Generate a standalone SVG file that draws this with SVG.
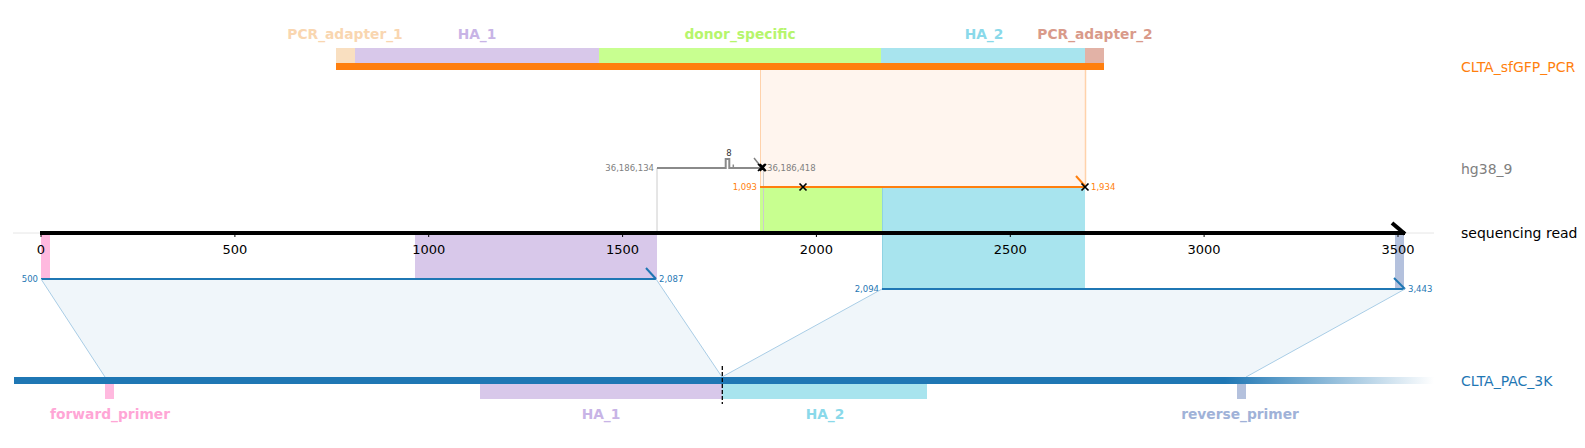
<svg xmlns="http://www.w3.org/2000/svg" width="1585" height="448" viewBox="0 0 1585 448">
<style>
text{font-family:"DejaVu Sans","Liberation Sans",sans-serif}
.lab{font-size:13.8px;font-weight:bold;text-anchor:middle}
.trk{font-size:14px}
.tick{font-size:13px;text-anchor:middle;fill:#000}
.sm{font-size:8.5px}
.aln{stroke:#1f77b4;stroke-width:2;fill:none}
.cx{stroke:#000;stroke-width:1.7}
.conn{stroke:#a9cde6;stroke-width:1;fill:none}
</style>
<defs>
<linearGradient id="fade" gradientUnits="userSpaceOnUse" x1="1225" y1="0" x2="1434" y2="0">
<stop offset="0" stop-color="#1f77b4"/>
<stop offset="1" stop-color="#1f77b4" stop-opacity="0"/>
</linearGradient>
</defs>
<rect width="1585" height="448" fill="#fff"/>

<!-- alignment fills -->
<g id="alignment-fills">
<polygon points="41,279 656,279 722,377 105,377" fill="#f0f6fa"/>
<polygon points="882,289 1405,289 1246,377 722,377" fill="#f0f6fa"/>
</g>

<!-- PCR product track -->
<g id="CLTA_sfGFP_PCR">
<rect x="760" y="70" width="325" height="117" fill="#fff5ee"/>
<line x1="760.5" y1="63" x2="760.5" y2="233" stroke="#ffd2ab" stroke-width="1"/>
<line x1="1085.5" y1="63" x2="1085.5" y2="187" stroke="#ffd2ab" stroke-width="1.5"/>
<rect x="336" y="48" width="19" height="15" fill="#f9dfc0"/>
<rect x="355" y="48" width="244" height="15" fill="#d8c8ea"/>
<rect x="599" y="48" width="282" height="15" fill="#c8ff90"/>
<rect x="881" y="48" width="204" height="15" fill="#a8e4ee"/>
<rect x="1085" y="48" width="19" height="15" fill="#e2b2a6"/>
<rect x="336" y="63" width="768" height="7" fill="#ff7f0e"/>
<text class="lab" x="345" y="39" fill="#f9d6b0">PCR_adapter_1</text>
<text class="lab" x="477" y="39" fill="#c8b4e6">HA_1</text>
<text class="lab" x="740" y="39" fill="#b6f56c">donor_specific</text>
<text class="lab" x="984" y="39" fill="#8ad9ea">HA_2</text>
<text class="lab" x="1095" y="39" fill="#d99a8a">PCR_adapter_2</text>
<text class="trk" x="1461" y="72" fill="#ff7f0e">CLTA_sfGFP_PCR</text>
</g>

<!-- read features -->
<g id="read-features">
<rect x="41" y="233" width="9" height="46" fill="#ffb9df"/>
<rect x="415" y="233" width="242" height="46" fill="#d8c8ea"/>
<rect x="760" y="187" width="122" height="46" fill="#c8ff90"/>
<rect x="882" y="187" width="203" height="102" fill="#a8e4ee"/>
<line x1="882.5" y1="187" x2="882.5" y2="289" stroke="#8fd3e3" stroke-width="1"/>
<rect x="1395" y="233" width="9" height="56" fill="#b4c1dd"/>
</g>

<!-- hg38 track -->
<g id="hg38_9">
<line x1="657" y1="168" x2="657" y2="233" stroke="#cccccc" stroke-width="1"/>
<line x1="763.5" y1="168" x2="763.5" y2="233" stroke="#cccccc" stroke-width="1"/>
<path d="M657 168 H725.7 V159 H729.3 V168 H762" stroke="#8a8a8a" stroke-width="2" fill="none"/>
<line x1="733.3" y1="168" x2="733.3" y2="164.5" stroke="#8a8a8a" stroke-width="1.5"/>
<line x1="754" y1="158" x2="762" y2="168" stroke="#808080" stroke-width="1.5"/>
<path class="cx" d="M758 164 L765 171 M758 171 L765 164 M760 164 L766 171 M760 171 L766 164"/>
<text x="729" y="156" font-size="8.5" text-anchor="middle" fill="#333">8</text>
<text class="sm" x="654" y="171" text-anchor="end" fill="#808080">36,186,134</text>
<text class="sm" x="767" y="171" fill="#808080">36,186,418</text>
<text class="trk" x="1461" y="174" fill="#808080">hg38_9</text>
</g>

<!-- PCR alignment -->
<g id="pcr-alignment">
<line x1="760" y1="187" x2="1085" y2="187" stroke="#ff7f0e" stroke-width="2"/>
<line x1="1076" y1="176" x2="1085" y2="186" stroke="#ff7f0e" stroke-width="2"/>
<path class="cx" d="M799.5 183.5 L806.5 190.5 M799.5 190.5 L806.5 183.5"/>
<path class="cx" d="M1081.5 183.5 L1088.5 190.5 M1081.5 190.5 L1088.5 183.5"/>
<text class="sm" x="757" y="190" text-anchor="end" fill="#ff7f0e">1,093</text>
<text class="sm" x="1091" y="190" fill="#ff7f0e">1,934</text>
</g>

<!-- sequencing read axis -->
<g id="sequencing-read">
<line x1="13" y1="233" x2="1434" y2="233" stroke="#e6e6e6" stroke-width="1"/>
<line x1="40" y1="233" x2="1405" y2="233" stroke="#000" stroke-width="4"/>
<line x1="1392" y1="223" x2="1405" y2="234" stroke="#000" stroke-width="4"/>
<g stroke="#000" stroke-width="1">
<line x1="41" y1="233" x2="41" y2="237"/>
<line x1="234.9" y1="233" x2="234.9" y2="237"/>
<line x1="428.7" y1="233" x2="428.7" y2="237"/>
<line x1="622.6" y1="233" x2="622.6" y2="237"/>
<line x1="816.4" y1="233" x2="816.4" y2="237"/>
<line x1="1010.3" y1="233" x2="1010.3" y2="237"/>
<line x1="1204.1" y1="233" x2="1204.1" y2="237"/>
<line x1="1398" y1="233" x2="1398" y2="237"/>
</g>
<text class="tick" x="41" y="254">0</text>
<text class="tick" x="234.9" y="254">500</text>
<text class="tick" x="428.7" y="254">1000</text>
<text class="tick" x="622.6" y="254">1500</text>
<text class="tick" x="816.4" y="254">2000</text>
<text class="tick" x="1010.3" y="254">2500</text>
<text class="tick" x="1204.1" y="254">3000</text>
<text class="tick" x="1398" y="254">3500</text>
<text class="trk" x="1461" y="238" fill="#000">sequencing read</text>
</g>

<!-- read-to-reference alignments -->
<g id="read-alignments">
<line class="aln" x1="41" y1="279" x2="656" y2="279"/>
<line class="aln" x1="646" y1="268" x2="656" y2="279"/>
<text class="sm" x="38" y="282" text-anchor="end" fill="#1f77b4">500</text>
<text class="sm" x="659" y="282" fill="#1f77b4">2,087</text>
<line class="aln" x1="882" y1="289" x2="1405" y2="289"/>
<line class="aln" x1="1394" y1="278" x2="1405" y2="289"/>
<text class="sm" x="879" y="292" text-anchor="end" fill="#1f77b4">2,094</text>
<text class="sm" x="1408" y="292" fill="#1f77b4">3,443</text>
</g>

<!-- connectors -->
<g id="connectors">
<line class="conn" x1="41" y1="279" x2="105" y2="377"/>
<line class="conn" x1="656" y1="279" x2="722" y2="377"/>
<line class="conn" x1="882" y1="289" x2="722" y2="377"/>
<line class="conn" x1="1405" y1="289" x2="1246" y2="377"/>
</g>

<!-- reference track -->
<g id="CLTA_PAC_3K">
<rect x="14" y="377" width="1211" height="7" fill="#1f77b4"/>
<rect x="1225" y="377" width="209" height="7" fill="url(#fade)"/>
<rect x="105" y="384" width="9" height="15" fill="#ffb9df"/>
<rect x="480" y="384" width="242" height="15" fill="#d8c8ea"/>
<rect x="722" y="384" width="205" height="15" fill="#a8e4ee"/>
<rect x="1237" y="384" width="9" height="15" fill="#b4c1dd"/>
<line x1="722.3" y1="366" x2="722.3" y2="404" stroke="#000" stroke-width="1.3" stroke-dasharray="4,2"/>
<text class="lab" x="110" y="419" fill="#ffa6d6">forward_primer</text>
<text class="lab" x="601" y="419" fill="#c8b4e6">HA_1</text>
<text class="lab" x="825" y="419" fill="#8ad9ea">HA_2</text>
<text class="lab" x="1240" y="419" fill="#a0b2d8">reverse_primer</text>
<text class="trk" x="1461" y="386" fill="#1f77b4">CLTA_PAC_3K</text>
</g>
</svg>
